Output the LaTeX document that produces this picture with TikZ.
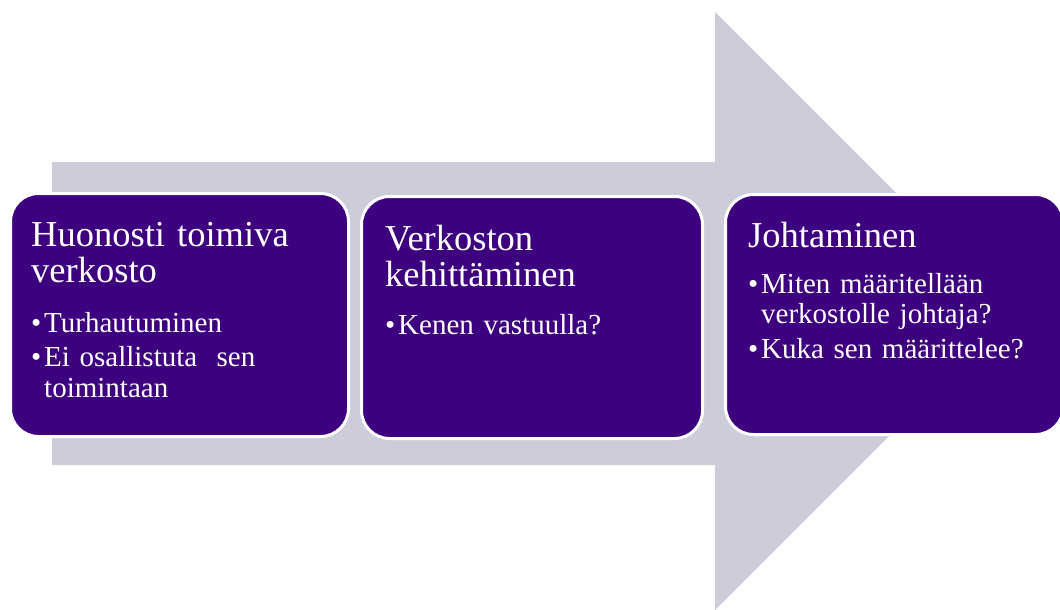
\documentclass[tikz,border=0pt]{standalone}
\usepackage{fontspec}
\setmainfont{Liberation Serif}
\usetikzlibrary{positioning}
\definecolor{arrowgray}{RGB}{205, 204, 219}
\definecolor{stagepurple}{RGB}{61, 0, 126}
\newcommand{\bul}{\makebox[13pt][l]{\textbullet}}
\newcommand{\hang}{\hspace*{13pt}}

\begin{document}
\begin{tikzpicture}[x=1pt, y=-1pt,
    stage/.style={draw=white, line width=3pt, fill=stagepurple, rounded corners=28pt,
      anchor=north west, inner sep=0pt},
    stagetitle/.style={anchor=north west, inner sep=0pt, text=white, align=left,
      text width=310pt, font=\fontsize{36.5}{36}\selectfont},
    stagelist/.style={anchor=north west, inner sep=0pt, text=white, align=left,
      text width=315pt, font=\fontsize{29}{30.5}\selectfont}]
  \useasboundingbox (0,0) rectangle (1060,610);

  % big arrow behind the stages
  \fill[arrowgray] (52,162) -- (715,162) -- (715,12) -- (1014,311)
    -- (715,610) -- (715,465) -- (52,465) -- cycle;

  % stages
  \node[stage, minimum width=338pt, minimum height=243pt] (b1) at (9,192) {};
  \node[stage, minimum width=341pt, minimum height=242pt] (b2) at (360,195) {};
  \node[stage, minimum width=338pt, minimum height=240pt] (b3) at (724,193) {};

  % texts
  \node[stagetitle] (t1) at (31,222) {Huonosti toimiva\\verkosto};
  \node[stagelist] (l1) at (31,312) {\bul Turhautuminen\\[4pt]
    \bul Ei osallistuta\ \ sen\\\hang toimintaan};

  \node[stagetitle] (t2) at (385,225) {Verkoston\\kehittäminen};
  \node[stagelist] (l2) at (385,314) {\bul Kenen vastuulla?};

  \node[stagetitle] (t3) at (748,222) {Johtaminen};
  \node[stagelist] (l3) at (748,273) {\bul Miten määritellään\\\hang verkostolle johtaja?\\[4pt]
    \bul Kuka sen määrittelee?};
\end{tikzpicture}
\end{document}
